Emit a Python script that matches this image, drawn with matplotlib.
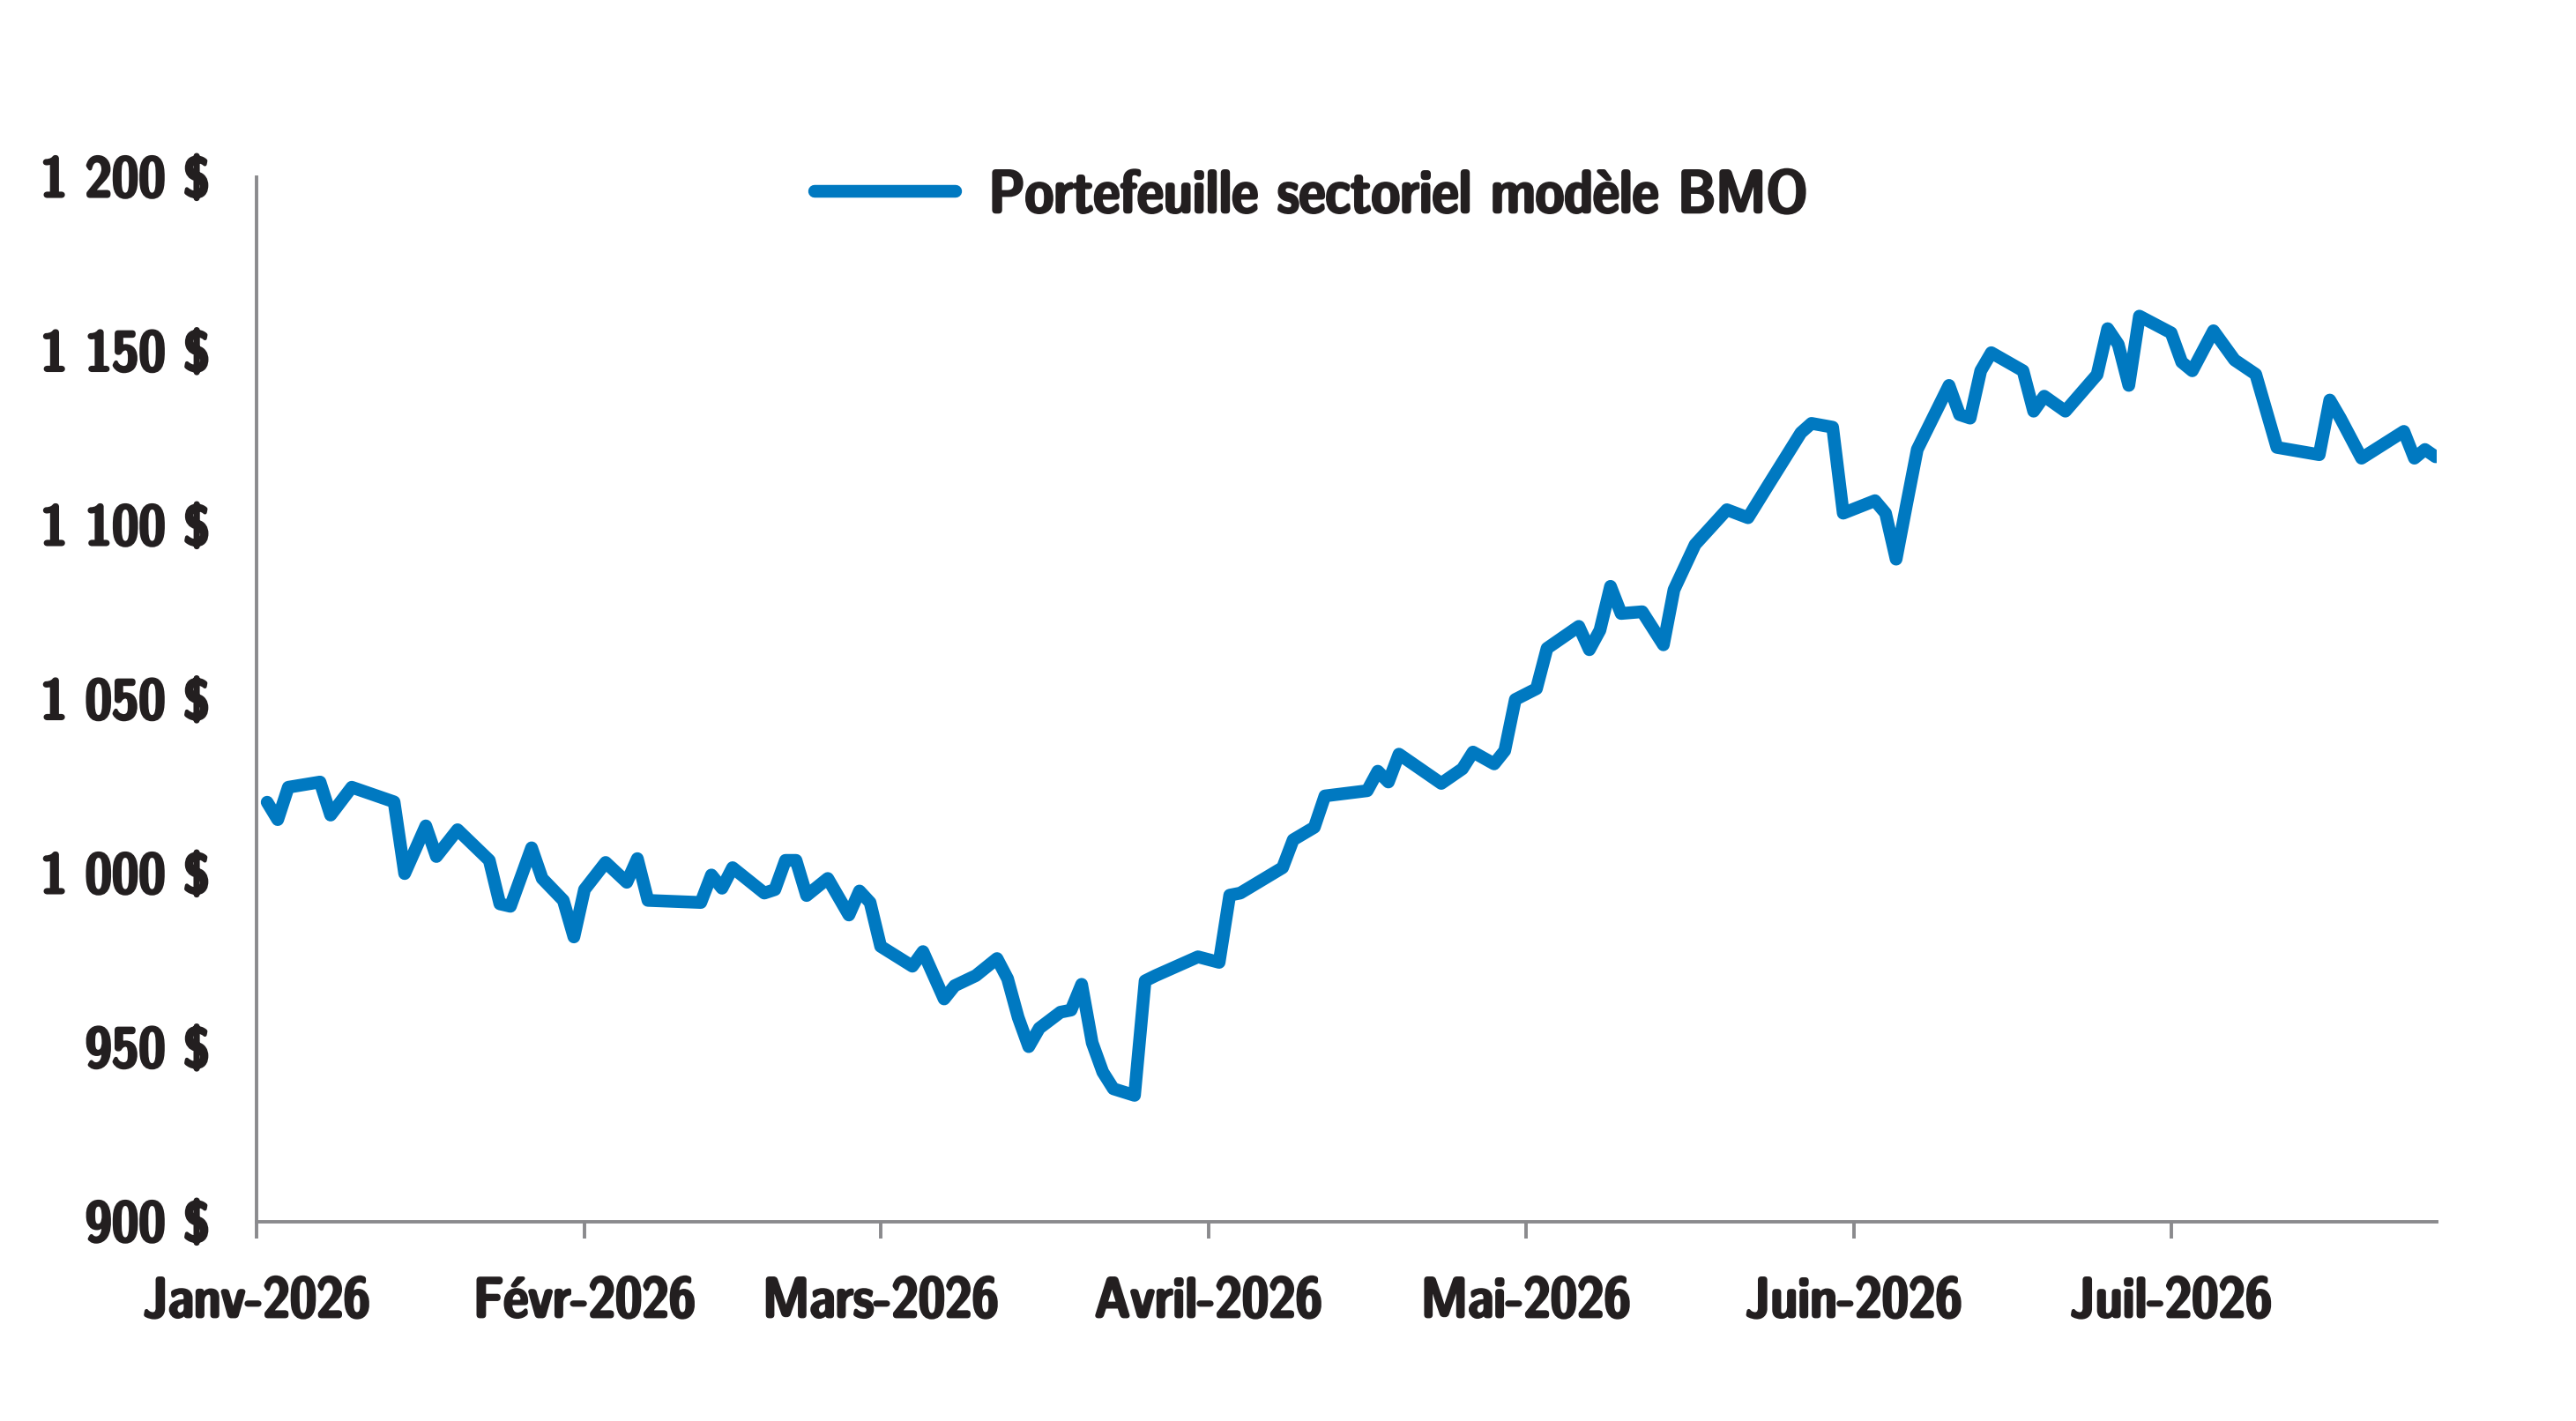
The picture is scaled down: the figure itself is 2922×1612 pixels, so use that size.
import pandas as pd
import matplotlib
matplotlib.use('Agg')
import matplotlib.pyplot as plt
import matplotlib.patheffects as pe
from matplotlib import font_manager

# values (vertices)
dates = ['2026-01-02', '2026-01-03', '2026-01-04', '2026-01-07', '2026-01-08', '2026-01-10',
         '2026-01-14', '2026-01-15', '2026-01-17', '2026-01-18', '2026-01-20', '2026-01-23',
         '2026-01-24', '2026-01-25', '2026-01-27', '2026-01-28', '2026-01-30', '2026-01-31',
         '2026-02-01', '2026-02-03', '2026-02-05', '2026-02-06', '2026-02-07', '2026-02-12',
         '2026-02-13', '2026-02-14', '2026-02-15', '2026-02-18', '2026-02-19', '2026-02-20',
         '2026-02-21', '2026-02-22', '2026-02-24', '2026-02-26', '2026-02-27', '2026-02-28',
         '2026-03-01', '2026-03-04', '2026-03-05', '2026-03-07', '2026-03-08', '2026-03-10',
         '2026-03-12', '2026-03-13', '2026-03-14', '2026-03-15', '2026-03-16', '2026-03-18',
         '2026-03-19', '2026-03-20', '2026-03-21', '2026-03-22', '2026-03-23', '2026-03-25',
         '2026-03-26', '2026-03-27', '2026-03-29', '2026-03-31', '2026-04-02', '2026-04-03',
         '2026-04-04', '2026-04-08', '2026-04-09', '2026-04-11', '2026-04-12', '2026-04-16',
         '2026-04-17', '2026-04-18', '2026-04-19', '2026-04-21', '2026-04-23', '2026-04-25',
         '2026-04-26', '2026-04-28', '2026-04-29', '2026-04-30', '2026-05-02', '2026-05-03',
         '2026-05-06', '2026-05-07', '2026-05-08', '2026-05-09', '2026-05-10', '2026-05-12',
         '2026-05-14', '2026-05-15', '2026-05-17', '2026-05-20', '2026-05-22', '2026-05-24',
         '2026-05-27', '2026-05-28', '2026-05-30', '2026-05-31', '2026-06-03', '2026-06-04',
         '2026-06-05', '2026-06-06', '2026-06-07', '2026-06-10', '2026-06-11', '2026-06-12',
         '2026-06-13', '2026-06-14', '2026-06-17', '2026-06-18', '2026-06-19', '2026-06-21',
         '2026-06-24', '2026-06-25', '2026-06-26', '2026-06-27', '2026-06-28', '2026-07-01',
         '2026-07-02', '2026-07-03', '2026-07-05', '2026-07-07', '2026-07-09', '2026-07-11',
         '2026-07-15', '2026-07-16', '2026-07-17', '2026-07-19', '2026-07-23', '2026-07-24',
         '2026-07-25', '2026-07-26']
values = [1020.5, 1015.5, 1024.8, 1026.3, 1016.8, 1024.8,
          1020.6, 1000.0, 1013.7, 1004.9, 1012.6, 1003.8,
          991.3, 990.6, 1007.4, 998.6, 992.3, 981.8,
          995.4, 1003.2, 997.5, 1004.3, 992.3, 991.7,
          999.6, 995.8, 1001.7, 994.4, 995.4, 1003.8,
          1003.8, 993.7, 998.6, 988.1, 995.0, 991.7,
          979.1, 973.4, 977.6, 964.0, 967.8, 970.7,
          975.6, 969.8, 958.7, 950.3, 955.6, 960.2,
          960.8, 968.2, 951.4, 943.0, 938.2, 936.3,
          969.2, 970.7, 973.4, 976.1, 974.5, 993.8,
          994.4, 1001.7, 1009.7, 1013.3, 1022.3, 1023.8,
          1029.4, 1026.3, 1034.3, 1030.1, 1025.9, 1030.1,
          1034.9, 1031.5, 1035.3, 1050.0, 1053.1, 1064.7,
          1071.0, 1064.3, 1069.9, 1082.5, 1074.7, 1075.2,
          1065.7, 1081.5, 1094.5, 1104.5, 1102.2, 1112.0,
          1126.6, 1129.3, 1128.2, 1103.5, 1107.1, 1103.5,
          1090.3, 1106.2, 1121.8, 1140.2, 1131.8, 1130.8,
          1144.4, 1149.6, 1144.4, 1132.8, 1137.1, 1132.8,
          1143.3, 1156.5, 1152.0, 1140.2, 1160.1, 1155.3,
          1146.9, 1144.4, 1155.9, 1147.5, 1143.4, 1122.4,
          1120.3, 1136.0, 1130.8, 1119.3, 1127.0, 1119.3,
          1121.8, 1119.7]

month_ticks = ['2026-01-01', '2026-02-01', '2026-03-01', '2026-04-01',
               '2026-05-01', '2026-06-01', '2026-07-01']
month_labels = ['Janv-2026', 'Févr-2026', 'Mars-2026', 'Avril-2026',
                'Mai-2026', 'Juin-2026', 'Juil-2026']
y_ticks = [900, 950, 1000, 1050, 1100, 1150, 1200]
y_labels = ['900 $', '950 $', '1 000 $', '1 050 $', '1 100 $', '1 150 $', '1 200 $']
series_name = 'Portefeuille sectoriel modèle BMO'

blue = '#0079C1'
grey = '#8A8A8D'
dark = '#231F20'


# look for a narrow bold sans face; the reference uses a condensed bold font
def find_narrow_bold():
    best = None
    for f in font_manager.fontManager.ttflist:
        tag = (f.name + ' ' + f.fname + ' ' + str(f.stretch)).lower()
        if not ('narrow' in tag or 'condensed' in tag):
            continue
        if 'semi' in tag or 'extra' in tag or 'ultra' in tag or 'oblique' in tag or 'italic' in tag:
            continue
        w = f.weight if isinstance(f.weight, int) else (700 if 'bold' in str(f.weight) else 400)
        if 'bold' in f.fname.lower():
            w = max(w, 700)
        if w < 600:
            continue
        if best is None or 'sans' in tag:
            best = f.fname
    return best


narrow = find_narrow_bold()
if narrow:
    fp = font_manager.FontProperties(fname=narrow, size=23)
    fp_leg = font_manager.FontProperties(fname=narrow, size=24.5)
else:
    fp = font_manager.FontProperties(family=['Liberation Sans', 'DejaVu Sans'], weight='bold', size=20)
    fp_leg = font_manager.FontProperties(family=['Liberation Sans', 'DejaVu Sans'], weight='bold', size=19.5)

# thicken the glyphs a little, the reference font is heavy
heavy = [pe.withStroke(linewidth=1.1, foreground=dark)]

fig = plt.figure(figsize=(14.61, 8.06), dpi=200)
ax = fig.add_axes([0.0996, 0.1402, 0.8464, 0.7351])

ax.plot(pd.to_datetime(dates), values, color=blue, lw=5.2,
        solid_capstyle='round', solid_joinstyle='round', label=series_name)

ax.set_ylim(900, 1200)
ax.set_xlim(pd.Timestamp('2026-01-01'), pd.Timestamp('2026-07-26 03:00'))

ax.set_yticks(y_ticks)
ax.set_yticklabels(y_labels)
ax.set_xticks(pd.to_datetime(month_ticks))
ax.set_xticklabels(month_labels)

for s in ['top', 'right']:
    ax.spines[s].set_visible(False)
for s in ['left', 'bottom']:
    ax.spines[s].set_color(grey)
    ax.spines[s].set_linewidth(1.4)

ax.tick_params(axis='y', length=0, pad=19, labelcolor=dark)
ax.tick_params(axis='x', length=7, width=1.4, color=grey, pad=16, labelcolor=dark)
for t in ax.get_xticklabels() + ax.get_yticklabels():
    t.set_fontproperties(fp)
    t.set_path_effects(heavy)

leg = fig.legend(loc='center', bbox_to_anchor=(0.509, 0.862), frameon=False,
                 handlelength=2.35, handletextpad=0.55, prop=fp_leg, labelcolor=dark)
for t in leg.get_texts():
    t.set_path_effects(heavy)

fig.savefig('out.png', dpi=200, facecolor='white')
